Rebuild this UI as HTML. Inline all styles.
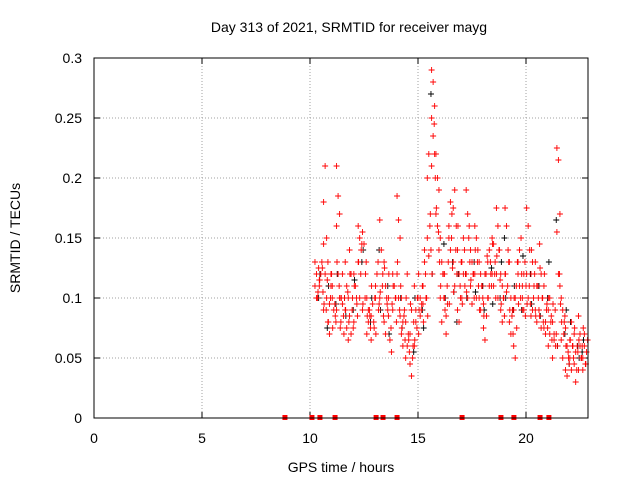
<!DOCTYPE html>
<html><head><meta charset="utf-8"><style>
body{margin:0;background:#fff}
svg{font-family:"Liberation Sans",sans-serif;font-size:14px}
</style></head><body>
<svg id="c" width="640" height="480" xmlns="http://www.w3.org/2000/svg"></svg>
<script>
const xTicks=[0,5,10,15,20];
const yTicks=[0,0.05,0.1,0.15,0.2,0.25,0.3];
const yTickLabels=["0","0.05","0.1","0.15","0.2","0.25","0.3"];
const redHours=[10.3,10.5,10.7,10.9,11.1,11.3,11.5,11.7,11.9,12.1,12.3,12.5,12.7,12.9,13.1,13.3,13.5,13.7,13.9,14.1,14.3,14.5,14.7,14.9,15.1,15.3,15.5,15.7,15.9,16.1,16.3,16.5,16.7,16.9,17.1,17.3,17.5,17.7,17.9,18.1,18.3,18.5,18.7,18.9,19.1,19.3,19.5,19.7,19.9,20.1,20.3,20.5,20.7,20.9,21.1,21.3,21.5,21.7,21.9,22.1,22.3,22.5,22.7];
const redVals=[[.11,.12,.105,.13,.1],[.115,.12,.125,.11],[.18,.21,.15,.145,.12,.1,.09],[.08,.095,.11,.13,.07,.12],[.1,.09,.085,.11],[.21,.185,.17,.16,.12,.1,.09],[.08,.095,.07,.1,.12],[.09,.075,.1,.13,.11,.065],[.14,.12,.1,.085,.07],[.12,.11,.095,.08],[.16,.15,.14,.13,.1],[.155,.145,.12,.09],[.1,.08,.085,.07,.09],[.085,.095,.075,.065],[.1,.12,.09,.11],[.165,.14,.12,.1],[.13,.11,.095,.08,.07],[.085,.065,.055,.1],[.12,.11,.1,.09],[.185,.165,.15,.12,.1,.085],[.1,.08,.09,.07,.06],[.05,.06,.065,.08,.12],[.045,.035,.06,.07,.09],[.06,.09,.1,.11,.08],[.07,.085,.095,.12,.1],[.11,.13,.1,.095,.14],[.2,.22,.17,.15,.135],[.29,.28,.26,.25,.235,.22,.21],[.22,.2,.19,.17,.16,.14],[.15,.13,.12,.1,.08],[.1,.085,.095,.12,.07],[.16,.18,.17,.15,.14],[.175,.19,.16,.13,.11],[.14,.12,.1,.09,.08],[.1,.12,.11,.13,.15],[.19,.17,.16,.12,.1],[.14,.13,.12,.11,.095],[.16,.15,.14,.12,.1],[.13,.12,.11,.1,.09],[.075,.065,.085,.095,.12],[.1,.11,.12,.13,.14],[.15,.145,.13,.12,.11],[.175,.16,.14,.12,.1],[.12,.11,.1,.09,.08],[.175,.16,.14,.12,.105],[.13,.1,.09,.08,.07],[.06,.05,.075,.09,.1],[.12,.14,.15,.13,.11],[.1,.09,.085,.11,.12],[.175,.16,.14,.12,.1],[.085,.09,.11,.12,.13],[.13,.11,.1,.09,.08],[.145,.12,.1,.085,.075],[.075,.08,.095,.11,.07],[.06,.07,.085,.09,.1],[.08,.065,.06,.05,.07],[.225,.215,.17,.155,.12,.11],[.1,.09,.08,.065,.05],[.075,.06,.05,.04,.035],[.05,.04,.06,.065,.08],[.045,.055,.06,.07,.03],[.085,.07,.05,.04,.06],[.05,.06,.045,.04,.07]];
const redHours2=[10.4,10.6,10.8,11.0,11.2,11.4,11.6,11.8,12.0,12.2,12.4,12.6,12.8,13.0,13.2,13.4,13.6,13.8,14.0,14.2,14.4,14.6,14.8,15.0,15.2,15.4,15.6,15.8,16.0,16.2,16.4,16.6,16.8,17.0,17.2,17.4,17.6,17.8,18.0,18.2,18.4,18.6,18.8,19.0,19.2,19.4,19.6,19.8,20.0,20.2,20.4,20.6,20.8,21.0,21.2,21.4,21.6,21.8,22.0,22.2,22.4,22.6,22.8];
const redVals2=[[.1,.125,.115],[.13,.105,.095],[.09,.115,.08],[.1,.12,.075],[.095,.08,.13],[.11,.075,.1],[.085,.1,.09],[.105,.08,.12],[.09,.075,.11],[.1,.085,.13],[.12,.145,.095],[.1,.13,.085],[.09,.075,.11],[.08,.1,.07],[.13,.095,.105],[.11,.085,.125],[.1,.09,.12],[.075,.095,.11],[.1,.08,.13],[.09,.11,.075],[.085,.065,.1],[.07,.055,.095],[.05,.08,.065],[.075,.1,.09],[.09,.11,.08],[.12,.1,.085],[.16,.14,.12],[.245,.2,.175],[.155,.13,.11],[.12,.1,.09],[.11,.13,.095],[.15,.125,.105],[.14,.12,.16],[.11,.13,.095],[.14,.12,.105],[.15,.13,.115],[.12,.1,.14],[.13,.11,.09],[.11,.1,.085],[.12,.135,.1],[.13,.11,.145],[.12,.1,.135],[.14,.115,.095],[.1,.085,.12],[.11,.13,.09],[.085,.07,.1],[.11,.13,.095],[.1,.12,.09],[.13,.11,.095],[.11,.095,.14],[.1,.12,.085],[.11,.09,.125],[.1,.08,.12],[.09,.075,.1],[.08,.065,.095],[.09,.07,.06],[.12,.095,.08],[.07,.085,.06],[.055,.045,.065],[.06,.05,.075],[.04,.055,.065],[.05,.06,.075],[.045,.055,.065]];
const blackHours=[10.4,10.8,11.2,11.6,12.0,12.4,12.8,13.2,13.6,14.2,14.8,15.2,15.6,16.2,16.6,16.8,17.2,17.6,18.0,18.4,18.8,19.0,19.4,19.8,20.2,20.6,21.0,21.4,21.8,22.0,22.4,22.6];
const blackVals=[[.1,.12],[.075,.11],[.095,.12],[.1,.085],[.09,.115],[.13,.14],[.08,.1],[.14,.09],[.11,.07],[.1,.075],[.055,.1],[.09,.075],[.27,.12],[.145,.1],[.13,.105],[.08,.12],[.12,.1],[.13,.105],[.11,.09],[.125,.095],[.1,.13],[.15,.1],[.09,.11],[.09,.135],[.12,.095],[.11,.085],[.1,.13],[.165,.06],[.07,.09],[.045,.08],[.06,.05],[.055,.065]];
const markHours=[8.84,10.09,10.46,11.16,13.06,13.38,14.03,17.04,18.84,19.44,20.65,21.06];
const X0=94,X1=588,Y0=418,Y1=58,XMAX=22.87,YMAX=0.3;
const sx=h=>X0+(h/XMAX)*(X1-X0);
const sy=v=>Y0-(v/YMAX)*(Y0-Y1);
const svg=document.getElementById('c');const NS='http://www.w3.org/2000/svg';
function mk(t,a,txt){const e=document.createElementNS(NS,t);for(const k in a)e.setAttribute(k,a[k]);if(txt!==undefined)e.textContent=txt;svg.appendChild(e);return e;}
let e;
xTicks.forEach(t=>{
 if(t>0){e=mk('line',{x1:sx(t),x2:sx(t),y1:Y0,y2:Y1,stroke:'#a0a0a0','stroke-dasharray':'1,2'});
 }
 e=mk('line',{x1:sx(t),x2:sx(t),y1:Y0,y2:Y0-6,stroke:'#000'});
 
 e=mk('line',{x1:sx(t),x2:sx(t),y1:Y1,y2:Y1+6,stroke:'#000'});
 
 e=mk('text',{x:sx(t),y:443,'text-anchor':'middle'},String(t));
 
});
yTicks.forEach((t,i)=>{
 if(t>0&&t<YMAX){e=mk('line',{x1:X0,x2:X1,y1:sy(t),y2:sy(t),stroke:'#a0a0a0','stroke-dasharray':'1,2'});
 }
 e=mk('line',{x1:X0,x2:X0+6,y1:sy(t),y2:sy(t),stroke:'#000'});
 
 e=mk('line',{x1:X1,x2:X1-6,y1:sy(t),y2:sy(t),stroke:'#000'});
 
 e=mk('text',{x:82,y:sy(t)+5,'text-anchor':'end'},yTickLabels[i]);
 
});
function plus(h,v,col,name){const x=sx(h),y=sy(v);
 e=mk('path',{d:`M${x-3},${y}h6M${x},${y-3}v6`,stroke:col,'stroke-width':0.9});
 }
blackHours.forEach((h,i)=>blackVals[i].forEach((v,j)=>plus(h+j*0.06,v,'#000','black-point')));
redHours.forEach((h,i)=>redVals[i].forEach((v,j)=>plus(h+(j%3-1)*0.07,v,'#f00','red-point')));
redHours2.forEach((h,i)=>redVals2[i].forEach((v,j)=>plus(h+(j-1)*0.05,v,'#f00','red-point')));
markHours.forEach(h=>{e=mk('rect',{x:sx(h)-2.5,y:Y0-3,width:5,height:5,fill:'#f00'});
 });
e=mk('rect',{x:X0,y:Y1,width:X1-X0,height:Y0-Y1,fill:'none',stroke:'#000'});

e=mk('text',{x:349,y:32,'text-anchor':'middle'},'Day 313 of 2021, SRMTID for receiver mayg');

e=mk('text',{x:341,y:472,'text-anchor':'middle'},'GPS time / hours');

e=mk('text',{x:20,y:238,'text-anchor':'middle',transform:'rotate(-90 20 238)'},'SRMTID / TECUs');

</script>
</body></html>
